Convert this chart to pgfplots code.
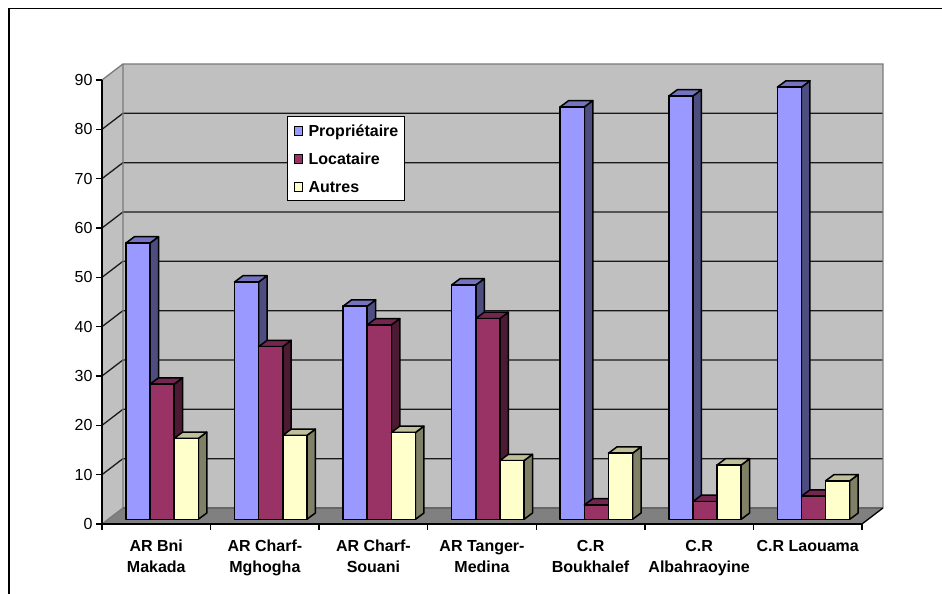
\documentclass[border=0pt]{standalone}
\usepackage{fontspec}
\setmainfont{Liberation Sans}
\usepackage{pgfplots}
\pgfplotsset{compat=1.18}

\definecolor{wall}{HTML}{C0C0C0}
\definecolor{floorgray}{HTML}{808080}
\definecolor{edgegray}{HTML}{7A7A7A}
\definecolor{propF}{HTML}{9999FF}\definecolor{propS}{HTML}{4D4D80}\definecolor{propT}{HTML}{7373BF}
\definecolor{locF}{HTML}{993366}\definecolor{locS}{HTML}{4D1A33}\definecolor{locT}{HTML}{732650}
\definecolor{autF}{HTML}{FFFFCC}\definecolor{autS}{HTML}{808066}\definecolor{autT}{HTML}{BFBF99}

% Depth of the chart box, in axis units
\def\dx{0.1928}
\def\dy{3.243}

% One box: #1 category, #2 slot in the cluster, #3 value, #4 front, #5 side, #6 top
\newcommand\onebox[6]{%
  \pgfmathsetmacro\xa{#1+0.2204+#2*0.2222}%
  \pgfmathsetmacro\xb{\xa+0.2222}%
  \pgfmathsetmacro\xc{\xb+0.0781}%
  \pgfmathsetmacro\xd{\xa+0.0781}%
  \pgfmathsetmacro\ya{0.95}%
  \pgfmathsetmacro\yb{0.95+#3}%
  \pgfmathsetmacro\yc{\yb+1.28}%
  \pgfmathsetmacro\ye{\ya+1.28}%
  \addplot[forget plot,sharp plot,mark=none,line width=1.5pt,line join=round,draw=black,fill=#5]
    coordinates {(\xb,\ya) (\xc,\ye) (\xc,\yc) (\xb,\yb)} -- cycle;
  \addplot[forget plot,sharp plot,mark=none,line width=1.5pt,line join=round,draw=black,fill=#6]
    coordinates {(\xa,\yb) (\xb,\yb) (\xc,\yc) (\xd,\yc)} -- cycle;
  \addplot[forget plot,sharp plot,mark=none,line width=1.5pt,line join=round,draw=black,fill=#4]
    coordinates {(\xa,\ya) (\xb,\ya) (\xb,\yb) (\xa,\yb)} -- cycle;
}
% One cluster: #1 category, then Propriétaire, Locataire, Autres
\newcommand\cluster[4]{%
  \onebox{#1}{0}{#2}{propF}{propS}{propT}%
  \onebox{#1}{1}{#3}{locF}{locS}{locT}%
  \onebox{#1}{2}{#4}{autF}{autS}{autT}%
}
% A level line across the side wall and the back wall
\newcommand\levelline[1]{%
  \pgfmathsetmacro\yk{#1+\dy}%
  \pgfmathsetmacro\xr{7+\dx}%
  \addplot[forget plot,sharp plot,mark=none,line width=1.3pt,draw=black!90]
    coordinates {(0,#1) (\dx,\yk) (\xr,\yk)};
}

\begin{document}
\begin{tikzpicture}[x=1pt,y=1pt]
\useasboundingbox (0,0) rectangle (942,594);
% Chart frame
\draw[line width=1.6pt,black] (9,0) -- (9,585.5) -- (942,585.5);

\begin{axis}[
  at={(102pt,70pt)}, anchor=south west,
  scale only axis, width=760pt, height=444pt,
  xmin=0, xmax=7, ymin=0, ymax=90,
  clip=false, axis on top,
  axis lines*=left,
  axis line style={black,line width=1.3pt,-},
  tick align=outside, major tick length=6pt,
  tick style={black,line width=1.3pt},
  ytick={0,10,...,90},
  xtick={0,1,...,7},
  x tick label as interval,
  xticklabels={{AR Bni\\Makada},{AR Charf-\\Mghogha},{AR Charf-\\Souani},{AR Tanger-\\Medina},{C.R\\Boukhalef},{C.R\\Albahraoyine},{C.R Laouama}},
  xticklabel style={font=\fontsize{16}{21}\selectfont\bfseries,align=center,anchor=north,yshift=-6.5pt},
  yticklabel style={font=\fontsize{16}{20}\selectfont,/pgf/number format/assume math mode=true},
  legend style={
    at={(axis cs:1.7035,82.75)}, anchor=north west,
    draw=black, line width=1.2pt, fill=white,
    font=\fontsize{16}{18}\selectfont\bfseries,
    inner xsep=6pt, inner ysep=7.5pt, row sep=15pt,
    nodes={inner sep=0pt,text height=13pt,text depth=0pt,anchor=base west},
  },
  legend cell align=left,
  legend image code/.code={\draw[#1,draw=black,line width=1pt] (0pt,1.5pt) rectangle (8.5pt,10pt);\path[draw=none,fill=none] (0pt,5pt) -- (14.5pt,5pt);},
]
% Walls and floor
\addplot[forget plot,sharp plot,mark=none,draw=none,fill=wall]
  coordinates {(0,0) (0.1928,3.243) (0.1928,93.243) (0,90)} -- cycle;
\addplot[forget plot,sharp plot,mark=none,draw=none,fill=wall]
  coordinates {(0.1928,3.243) (7.1928,3.243) (7.1928,93.243) (0.1928,93.243)} -- cycle;
\addplot[forget plot,sharp plot,mark=none,draw=none,fill=floorgray]
  coordinates {(0,0) (7,0) (7.1928,3.243) (0.1928,3.243)} -- cycle;
% Level lines
\levelline{10}\levelline{20}\levelline{30}\levelline{40}
\levelline{50}\levelline{60}\levelline{70}\levelline{80}
% Wall edges
\addplot[forget plot,sharp plot,mark=none,line width=1.3pt,draw=edgegray]
  coordinates {(0,90) (0.1928,93.243) (7.1928,93.243) (7.1928,3.243)};
\addplot[forget plot,sharp plot,mark=none,line width=1.3pt,draw=edgegray]
  coordinates {(0,0) (0.1928,3.243) (0.1928,93.243)};
\addplot[forget plot,sharp plot,mark=none,line width=1.3pt,draw=black!60]
  coordinates {(0.1928,3.243) (7.1928,3.243)};
\addplot[forget plot,sharp plot,mark=none,line width=1.3pt,draw=black]
  coordinates {(7,0) (7.1928,3.243)};
% Values by category
\cluster{0}{56.0}{27.4}{16.4}
\cluster{1}{48.1}{35.0}{17.0}
\cluster{2}{43.2}{39.4}{17.6}
\cluster{3}{47.5}{40.7}{11.9}
\cluster{4}{83.6}{2.9}{13.4}
\cluster{5}{85.8}{3.6}{11.0}
\cluster{6}{87.6}{4.7}{7.8}
% Legend entries
\addlegendimage{fill=propF}\addlegendentry{Propriétaire}
\addlegendimage{fill=locF}\addlegendentry{Locataire}
\addlegendimage{fill=autF}\addlegendentry{Autres}
\end{axis}
\end{tikzpicture}
\end{document}
